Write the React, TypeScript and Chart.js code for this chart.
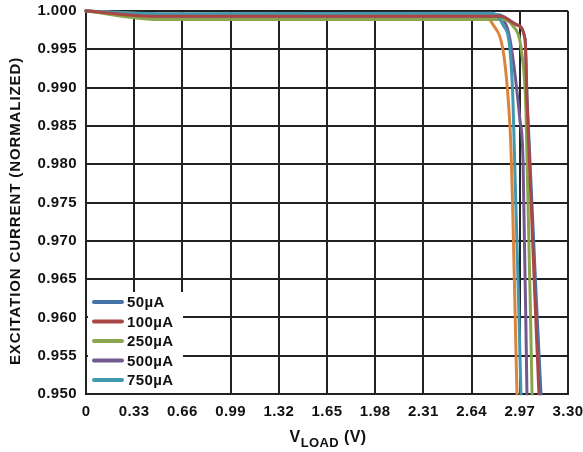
import { useEffect, useRef } from 'react';
import { Chart, registerables } from 'chart.js';

Chart.register(...registerables);

// ---- data ----
const xTickValues = [0, 0.33, 0.66, 0.99, 1.32, 1.65, 1.98, 2.31, 2.64, 2.97, 3.3];
const yTickValues = [0.95, 0.955, 0.96, 0.965, 0.97, 0.975, 0.98, 0.985, 0.99, 0.995, 1.0];

const seriesNames = ['50µA', '100µA', '250µA', '500µA', '750µA', '1mA'];

const vLoad50 = [0, 0.5, 2.82, 2.951, 3.006, 3.02, 3.115];
const iExc50 = [1.0, 0.9995, 0.9995, 0.9982, 0.9963, 0.9885, 0.95];

const vLoad100 = [0, 0.5, 2.84, 2.951, 3.006, 3.019, 3.101];
const iExc100 = [1.0, 0.9993, 0.9993, 0.99817, 0.99634, 0.98851, 0.95];

const vLoad250 = [0, 0.5, 2.84, 2.917, 2.985, 3.012, 3.054];
const iExc250 = [1.0, 0.9989, 0.9989, 0.99817, 0.99426, 0.98708, 0.95];

const vLoad500 = [0, 0.5, 2.8, 2.882, 2.971, 2.992, 3.019];
const iExc500 = [1.0, 0.9993, 0.9993, 0.99791, 0.98577, 0.98055, 0.95];

const vLoad750 = [0, 0.5, 2.78, 2.855, 2.903, 2.923, 2.978];
const iExc750 = [1.0, 0.99965, 0.99972, 0.99817, 0.99491, 0.98838, 0.95];

const vLoad1m = [0, 0.5, 2.71, 2.78, 2.903, 2.951];
const iExc1m = [1.0, 0.9996, 0.99952, 0.99843, 0.98486, 0.95];

const seriesX = [vLoad50, vLoad100, vLoad250, vLoad500, vLoad750, vLoad1m];
const seriesY = [iExc50, iExc100, iExc250, iExc500, iExc750, iExc1m];
const seriesColors = ['#4572A7', '#AA4643', '#89A54E', '#71588F', '#4198AF', '#DB843D'];
const seriesOrder = [6, 1, 3, 4, 2, 5];
const legendCount = 5;

const FONT = '"Liberation Sans", Arial, Helvetica, sans-serif';
const SPACING = '0.4px';

const spacingPlugin = {
  id: 'spacing',
  beforeLayout(chart: any) {
    chart.ctx.letterSpacing = SPACING;
  },
  beforeDraw(chart: any) {
    chart.ctx.letterSpacing = SPACING;
  },
};

const overlayPlugin = {
  id: 'overlay',
  afterDraw(chart: any) {
    const ctx = chart.ctx as CanvasRenderingContext2D;
    const area = chart.chartArea;
    ctx.save();
    (ctx as any).letterSpacing = SPACING;

    // legend box inside plot
    const bx = area.left + 2;
    const by = 292;
    ctx.fillStyle = '#ffffff';
    ctx.fillRect(bx, by, 95, area.bottom - by - 1);
    ctx.font = `bold 15px ${FONT}`;
    ctx.textAlign = 'left';
    ctx.textBaseline = 'middle';
    for (let i = 0; i < legendCount; i++) {
      const y = 302 + i * 19.5;
      ctx.strokeStyle = seriesColors[i];
      ctx.lineWidth = 4;
      ctx.lineCap = 'round';
      ctx.beginPath();
      ctx.moveTo(area.left + 8, y);
      ctx.lineTo(area.left + 36, y);
      ctx.stroke();
      ctx.fillStyle = '#111';
      ctx.fillText(seriesNames[i], area.left + 41, y + 1);
    }

    // y-axis title
    ctx.save();
    (ctx as any).letterSpacing = '0.9px';
    ctx.translate(16, 211);
    ctx.rotate(-Math.PI / 2);
    ctx.font = `bold 15px ${FONT}`;
    ctx.textAlign = 'center';
    ctx.textBaseline = 'middle';
    ctx.fillStyle = '#111';
    ctx.fillText('EXCITATION CURRENT (NORMALIZED)', 0, 0);
    ctx.restore();

    // x-axis title with subscript
    const big = `bold 16px ${FONT}`;
    const small = `bold 13px ${FONT}`;
    const p1 = 'V';
    const p2 = 'LOAD';
    const p3 = ' (V)';
    ctx.font = big;
    const w1 = ctx.measureText(p1).width;
    const w3 = ctx.measureText(p3).width;
    ctx.font = small;
    const w2 = ctx.measureText(p2).width;
    const total = w1 + w2 + w3;
    let x = 328 - total / 2;
    const base = 442;
    ctx.textAlign = 'left';
    ctx.textBaseline = 'alphabetic';
    ctx.fillStyle = '#111';
    ctx.font = big;
    ctx.fillText(p1, x, base);
    x += w1;
    ctx.font = small;
    ctx.fillText(p2, x, base + 5);
    x += w2;
    ctx.font = big;
    ctx.fillText(p3, x, base);
    ctx.restore();
  },
};

export default function App() {
  const ref = useRef<HTMLCanvasElement | null>(null);

  useEffect(() => {
    if (!ref.current) return;
    const datasets = seriesNames.map((name, s) => ({
      label: name,
      data: seriesX[s].map((v, k) => ({ x: v, y: seriesY[s][k] })),
      borderColor: seriesColors[s],
      backgroundColor: seriesColors[s],
      borderWidth: 3,
      pointRadius: 0,
      tension: 0,
      cubicInterpolationMode: 'monotone' as const,
      clip: false as any,
      order: seriesOrder[s],
      borderJoinStyle: 'round' as const,
      borderCapStyle: 'round' as const,
    }));

    const chart = new Chart(ref.current, {
      type: 'line',
      data: { datasets },
      plugins: [spacingPlugin, overlayPlugin],
      options: {
        animation: false,
        responsive: false,
        maintainAspectRatio: false,
        devicePixelRatio: 1,
        layout: { padding: { top: 11, right: 15, left: 0, bottom: 0 } },
        plugins: {
          legend: { display: false },
          tooltip: { enabled: false },
          title: { display: false },
        },
        scales: {
          x: {
            type: 'linear',
            min: 0,
            max: 3.3,
            afterBuildTicks: (scale: any) => {
              scale.ticks = xTickValues.map((v) => ({ value: v }));
            },
            afterFit: (scale: any) => {
              scale.height = 58;
              scale.paddingLeft = 0;
              scale.paddingRight = 0;
            },
            ticks: {
              autoSkip: false,
              maxRotation: 0,
              padding: 9,
              color: '#111',
              font: { family: FONT, size: 15, weight: 'bold' },
              callback: (value: any) => (Number(value) === 0 ? '0' : Number(value).toFixed(2)),
            },
            grid: { color: '#222', lineWidth: 2, drawTicks: false },
            border: { color: '#222', width: 2 },
          },
          y: {
            type: 'linear',
            min: 0.95,
            max: 1.0,
            afterBuildTicks: (scale: any) => {
              scale.ticks = yTickValues.map((v) => ({ value: v }));
            },
            afterFit: (scale: any) => {
              scale.width = 86;
              scale.paddingTop = 0;
              scale.paddingBottom = 0;
            },
            ticks: {
              autoSkip: false,
              padding: 9,
              color: '#111',
              font: { family: FONT, size: 15, weight: 'bold' },
              callback: (value: any) => Number(value).toFixed(3),
            },
            grid: { color: '#222', lineWidth: 2, drawTicks: false },
            border: { color: '#222', width: 2 },
          },
        },
      },
    });
    return () => chart.destroy();
  }, []);

  return (
    <div style={{ position: 'absolute', left: 0, top: 0, width: 583, height: 452, background: '#fff' }}>
      <canvas ref={ref} width={583} height={452} style={{ display: 'block', width: 583, height: 452 }} />
    </div>
  );
}
